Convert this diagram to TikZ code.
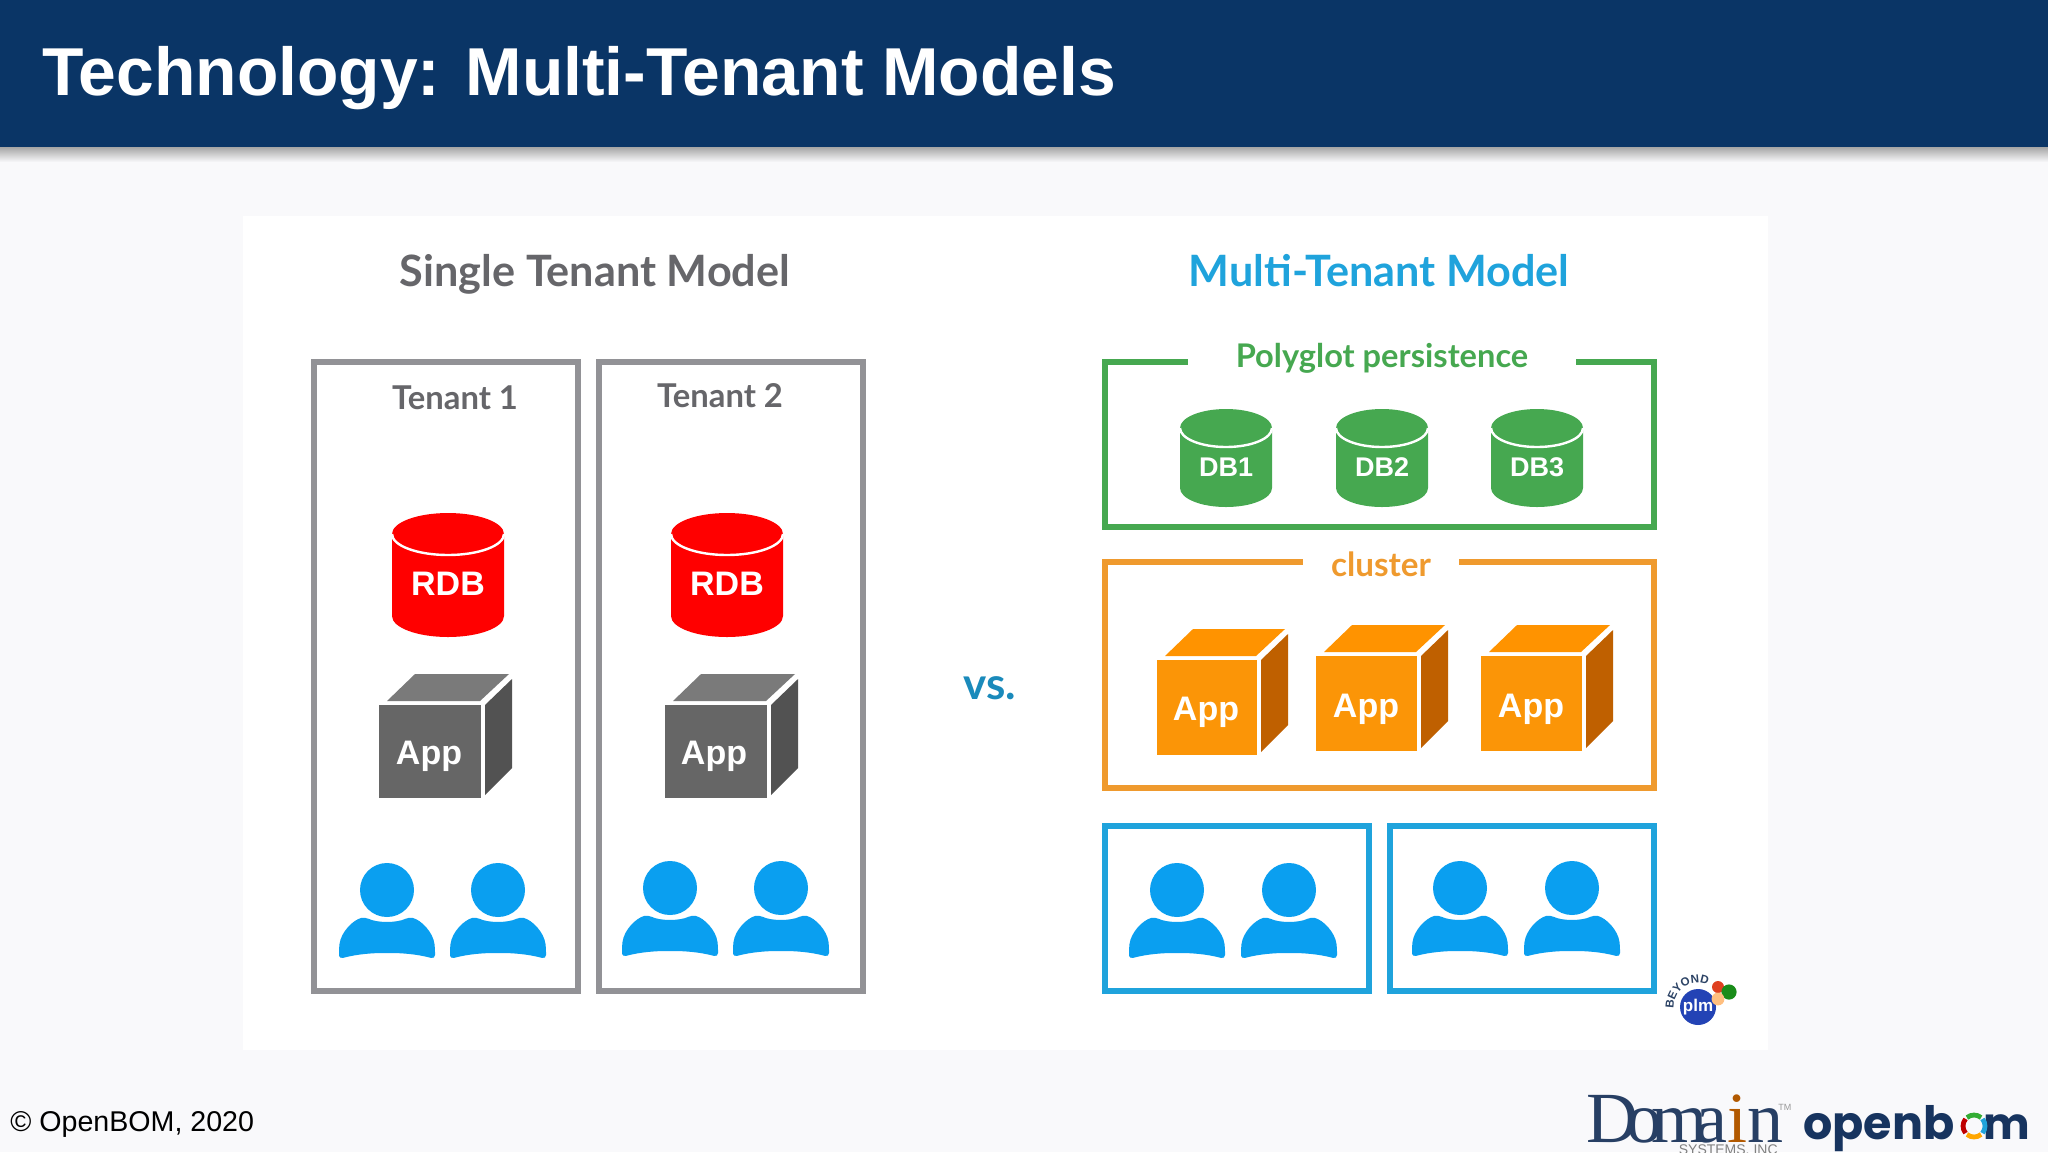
\documentclass[tikz,border=0pt]{standalone}
\usepackage{fontspec}
\setmainfont{Liberation Sans}
\newfontfamily\latofont{Lato}
\newfontfamily\domainfont[LetterSpace=-16]{Liberation Serif}
\newfontfamily\popfont{Poppins}
\usetikzlibrary{decorations.text}
\definecolor{headblue}{HTML}{0A3566}
\definecolor{pagegray}{HTML}{F9F9FB}
\definecolor{boxgray}{HTML}{929296}
\definecolor{textgray}{HTML}{66666A}
\definecolor{skyblue}{HTML}{1FA3DC}
\definecolor{userblue}{HTML}{0A9FF0}
\definecolor{dbgreen}{HTML}{46A850}
\definecolor{boxorange}{HTML}{EF9A2E}
\definecolor{apporange}{HTML}{FB9507}
\definecolor{logoblue}{HTML}{17345F}
\definecolor{plmblue}{HTML}{2343B5}
\tikzset{
  tenantbox/.style={draw=boxgray, line width=3pt},
  userbox/.style={draw=skyblue, line width=3pt},
  heading/.style={anchor=base, font=\latofont\bfseries\fontsize{21.6}{25}\selectfont},
  tenantlabel/.style={text=textgray, font=\latofont\bfseries\fontsize{16.4}{19}\selectfont},
  gaplabel/.style={fill=white, inner sep=0pt, minimum height=15pt, font=\latofont\bfseries\fontsize{#1}{19}\selectfont},
  iconlabel/.style={text=white, font=\bfseries\fontsize{#1}{#1}\selectfont},
  iconlabel/.default=17,
  pics/dbcyl/.style n args={4}{code={
    \fill[#4] (-#1,0) -- (-#1,#2) arc[start angle=180, end angle=360, x radius=#1*0.5pt, y radius=#3*0.5pt] -- (#1,0) arc[start angle=0, end angle=180, x radius=#1*0.5pt, y radius=#3*0.5pt] -- cycle;
    \draw[white, line width=1.2pt] (-#1,0) arc[start angle=180, end angle=360, x radius=#1*0.5pt, y radius=#3*0.5pt];
  }},
  pics/appcube/.style n args={5}{code={
    \fill[#3] (0,0) rectangle (#1,#2);
    \fill[#4] (8,-4) -- (36,-31) -- (#1+28,-31) -- (#1-1,-4) -- cycle;
    \fill[#5] (#1+4,0) -- (#1+31,-26) -- (#1+31,#2-30) -- (#1+4,#2-3) -- cycle;
  }},
  pics/person/.style={code={
    \fill[userblue] (0,0) circle[radius=13.5pt];
    \fill[userblue, rounded corners=2pt] (-48,69) -- (-48,58) .. controls (-46,42) and (-34,30) .. (-22,27) .. controls (-10,33) and (10,33) .. (22,27) .. controls (34,30) and (46,42) .. (48,58) -- (48,69) .. controls (30,64) and (14,63) .. (0,63) .. controls (-14,63) and (-30,64) .. (-48,69) -- cycle;
  }}
}

\begin{document}
\begin{tikzpicture}[x=0.5pt, y=-0.5pt]
  \useasboundingbox (0,0) rectangle (2048,1152);
  % page, header, picture panel
  \fill[pagegray] (0,0) rectangle (2048,1152);
  \shade[top color=black!35, bottom color=pagegray] (0,147) rectangle (2048,162);
  \fill[headblue] (0,0) rectangle (2048,147);
  \fill[white] (243,216) rectangle (1768,1050);
  \node[anchor=west, inner sep=0pt, text=white, font=\bfseries\fontsize{33.9}{40}\selectfont] (title) at (42,78.5) {Technology: Multi-Tenant Models};
  \node[heading, text=textgray] (single) at (595,286) {Single Tenant Model};
  \node[heading, text=skyblue] (multi) at (1379,286) {Multi-Tenant Model};
  \node[text=skyblue!85!black, font=\latofont\bfseries\fontsize{22}{24}\selectfont] (versus) at (990,688) {vs.};

  % single tenant side
  \node[tenantbox, minimum width=132pt, minimum height=314.5pt] (tenanta) at (445.5,676) {};
  \node[tenantbox, minimum width=132pt, minimum height=314.5pt] (tenantb) at (731,676) {};
  \node[tenantlabel] (labela) at (455,398) {Tenant 1};
  \node[tenantlabel] (labelb) at (720,396) {Tenant 2};
  \pic at (448,534) {dbcyl={56}{82}{21}{red}};
  \pic at (727,534) {dbcyl={56}{82}{21}{red}};
  \node[iconlabel=17] (rdba) at (448,584) {RDB};
  \node[iconlabel=17] (rdbb) at (727,584) {RDB};
  \pic at (379,705) {appcube={102}{93}{black!60}{black!52}{black!68}};
  \pic at (665,705) {appcube={102}{93}{black!60}{black!52}{black!68}};
  \node[iconlabel=17] (appa) at (429,756) {App};
  \node[iconlabel=17] (appb) at (714,756) {App};
  \pic at (387,890) {person};
  \pic at (498,890) {person};
  \pic at (670,888) {person};
  \pic at (781,888) {person};

  % multi tenant side
  \node[draw=dbgreen, line width=3pt, minimum width=274.5pt, minimum height=82.5pt] (polyglot) at (1379,444) {};
  \node[gaplabel=16.3, text=dbgreen, minimum width=194pt] (polylabel) at (1382,358) {Polyglot persistence};
  \pic at (1226,428) {dbcyl={46}{60}{19}{dbgreen}};
  \pic at (1382,428) {dbcyl={46}{60}{19}{dbgreen}};
  \pic at (1537,428) {dbcyl={46}{60}{19}{dbgreen}};
  \node[iconlabel=13.5] (dba) at (1226,467) {DB1};
  \node[iconlabel=13.5] (dbb) at (1382,467) {DB2};
  \node[iconlabel=13.5] (dbc) at (1537,467) {DB3};
  \node[draw=boxorange, line width=3pt, minimum width=274.5pt, minimum height=113pt] (cluster) at (1379,674.5) {};
  \node[gaplabel=16.6, text=boxorange, minimum width=78pt] (clusterlabel) at (1381,564) {cluster};
  \pic at (1157,660) {appcube={100}{95}{apporange}{orange!85!yellow}{orange!75!black}};
  \pic at (1316,656) {appcube={101}{95}{apporange}{orange!85!yellow}{orange!75!black}};
  \pic at (1481,656) {appcube={101}{95}{apporange}{orange!85!yellow}{orange!75!black}};
  \node[iconlabel=17] (appc) at (1206,712) {App};
  \node[iconlabel=17] (appd) at (1366,709) {App};
  \node[iconlabel=17] (appe) at (1531,709) {App};
  \node[userbox, minimum width=132pt, minimum height=82.5pt] (usersa) at (1236.5,908) {};
  \node[userbox, minimum width=132pt, minimum height=82.5pt] (usersb) at (1521.5,908) {};
  \pic at (1177,890) {person};
  \pic at (1289,890) {person};
  \pic at (1460,888) {person};
  \pic at (1572,888) {person};

  % small logo in the panel
  \fill[plmblue] (1698,1007) circle[radius=9pt];
  \node[text=white, inner sep=0pt, font=\bfseries\fontsize{8.5}{9}\selectfont] (plm) at (1698,1007) {plm};
  \path[decorate, decoration={text along path, text align=center, text={|\bfseries\fontsize{5.8}{6}\selectfont\color{logoblue!80!gray}|BEYOND}}] (1674,1011) arc[start angle=190, end angle=60, radius=12pt];
  \fill[red!50!brown] (1718,987) circle[radius=3pt];
  \fill[green!50!black!90] (1729,992) circle[radius=3.8pt];
  \fill[orange!50!white] (1718,999) circle[radius=3.2pt];

  % footer
  \node[anchor=west, inner sep=0pt, font=\fontsize{14.3}{17}\selectfont] (copyright) at (10,1124) {© OpenBOM, 2020};
  \node[anchor=base west, inner sep=0pt, text=logoblue!85!gray, font=\domainfont\fontsize{36}{40}\selectfont] (domain) at (1586,1142) {Doma{\color{orange!70!black}i}n};
  \node[anchor=base west, inner sep=0pt, text=black!40, font=\fontsize{4.5}{5}\selectfont] (tmark) at (1778,1110) {TM};
  \node[anchor=base east, inner sep=0pt, text=black!50, font=\fontsize{7}{8}\selectfont] (systems) at (1778,1154) {SYSTEMS, INC};
  \node[anchor=base west, inner sep=0pt, text=logoblue, font=\popfont\bfseries\fontsize{23}{28}\selectfont] (openb) at (1803,1139) {openb};
  \node[anchor=base east, inner sep=0pt, text=logoblue, font=\popfont\bfseries\fontsize{22}{28}\selectfont] (openm) at (2030,1139) {m};
  \draw[green!60!black!80, line width=2.4pt] (1974,1126) ++(50:5.5pt) arc[start angle=50, end angle=130, radius=5.5pt];
  \draw[skyblue, line width=2.4pt] (1974,1126) ++(40:5.5pt) arc[start angle=40, end angle=-40, radius=5.5pt];
  \draw[orange!70!yellow, line width=2.4pt] (1974,1126) ++(230:5.5pt) arc[start angle=230, end angle=310, radius=5.5pt];
  \draw[red!75!black, line width=2.4pt] (1974,1126) ++(140:5.5pt) arc[start angle=140, end angle=220, radius=5.5pt];
\end{tikzpicture}
\end{document}
